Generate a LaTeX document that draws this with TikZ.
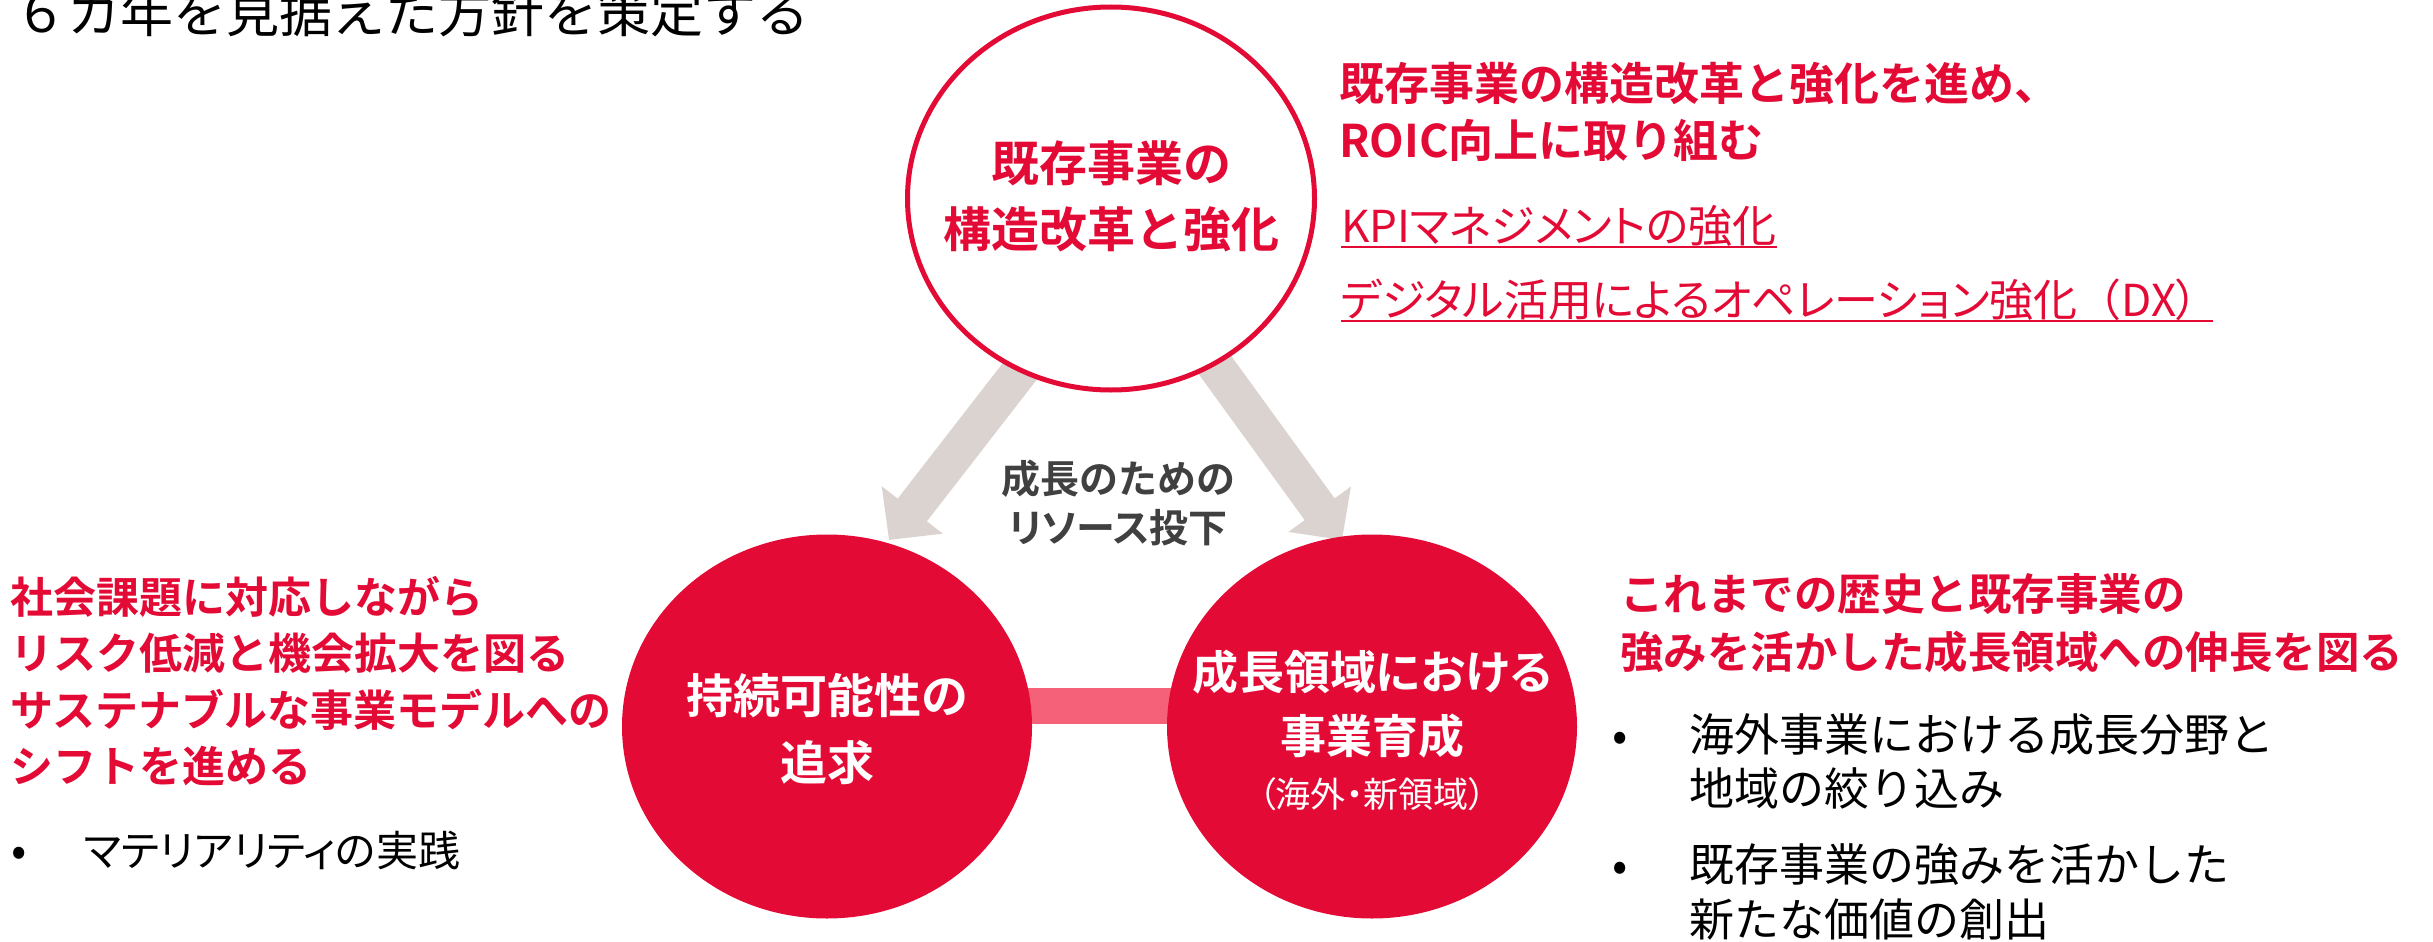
\documentclass[tikz,border=0pt]{standalone}
\usepackage{fontspec}
\newfontfamily\jp[BoldFont={Noto Sans CJK JP Bold}]{Noto Sans CJK JP}
\newfontfamily\jpp[BoldFont={Noto Sans CJK JP Bold},RawFeature=+palt]{Noto Sans CJK JP}
\usetikzlibrary{shapes.geometric,arrows.meta,backgrounds}
\definecolor{cred}{HTML}{E30B36}
\definecolor{cpink}{HTML}{F6617A}
\definecolor{cgray}{HTML}{DBD3D0}
\definecolor{ctext}{HTML}{404040}
\newcommand\fsz[1]{\fontsize{#1}{#1}\selectfont}
\begin{document}
\begin{tikzpicture}[x=1pt,y=-1pt,
  every node/.style={inner sep=0pt, outer sep=0pt},
  topcirc/.style={ellipse, draw=cred, line width=5pt, fill=white, minimum width=407pt, minimum height=383pt},
  redcirc/.style={ellipse, fill=cred, minimum width=410pt, minimum height=384pt},
  grayarrow/.style={draw=cgray, line width=37pt, -{Triangle[width=75pt,length=38pt]}},
  pinkbar/.style={draw=cpink, line width=36pt},
  uline/.style={draw=cred, line width=2.5pt},
  head/.style={anchor=base west, text=cred, font=\jp\bfseries\fsz{43}},
  body/.style={anchor=base west, text=black, font=\jp\fsz{45}},
  ctr/.style={anchor=base}
]
\useasboundingbox (0,0) rectangle (2433,942);

% title (cut at the top edge, as in the reference)
\node[anchor=base west, font=\jp\fsz{53}] (title) at (14,33) {６カ年を見据えた方針を策定する};

% circles
\node[topcirc] (top) at (1111,198.5) {};
\node[redcirc] (left) at (827,726.5) {};
\node[redcirc] (right) at (1372,726.5) {};

\begin{scope}[on background layer]
  \coordinate (aLs) at (1072,304);
  \coordinate (aLe) at (889,540);
  \coordinate (aRs) at (1167,299);
  \coordinate (aRe) at (1342,540);
  \draw[grayarrow] (aLs) -- (aLe);
  \draw[grayarrow] (aRs) -- (aRe);
  \draw[pinkbar] ([yshift=21pt]left.center) -- ([yshift=21pt]right.center);
\end{scope}

% top circle text
\node[ctr, text=cred, font=\jp\bfseries\fsz{48}] (topT1) at (1111,181) {既存事業の};
\node[ctr, text=cred, font=\jp\bfseries\fsz{48}] (topT2) at (1111,247) {構造改革と強化};

% middle label
\node[ctr, text=ctext, font=\jp\bfseries\fsz{39}] (mid1) at (1118,493) {成長のための};
\node[ctr, text=ctext, font=\jpp\bfseries\fsz{39}] (mid2) at (1118,542) {リソース投下};

% left circle text
\node[ctr, text=white, font=\jp\bfseries\fsz{47}] (lc1) at (827,713) {持続可能性の};
\node[ctr, text=white, font=\jp\bfseries\fsz{47}] (lc2) at (827,780) {追求};

% right circle text
\node[ctr, text=white, font=\jpp\bfseries\fsz{46}] (rc1) at (1372,689) {成長領域における};
\node[ctr, text=white, font=\jp\bfseries\fsz{46}] (rc2) at (1372,753) {事業育成};
\node[ctr, text=white, font=\jpp\fsz{35}] (rc3) at (1372,807) {（海外・新領域）};

% top right block
\node[head, font=\jp\bfseries\fsz{45}] (trH1) at (1339,100) {既存事業の構造改革と強化を進め、};
\node[head, font=\jp\bfseries\fsz{45}] (trH2) at (1339,157) {ROIC向上に取り組む};
\node[body, text=cred, font=\jpp\fsz{44}] (kpi) at (1341,242) {KPIマネジメントの強化};
\node[body, text=cred, font=\jpp\fsz{44}] (dx) at (1341,316) {デジタル活用によるオペレーション強化{\jp （}DX）};
\draw[uline] ([yshift=-5pt]kpi.base west) -- ([yshift=-5pt]kpi.base east);
\draw[uline] ([yshift=-5pt]dx.base west) -- ([xshift=14pt,yshift=-5pt]dx.base east);

% left block
\node[head] (lH1) at (10,613) {社会課題に対応しながら};
\node[head] (lH2) at (10,669) {リスク低減と機会拡大を図る};
\node[head] (lH3) at (10,726) {サステナブルな事業モデルへの};
\node[head] (lH4) at (10,782) {シフトを進める};
\node[body] (lB) at (12,866) {•};
\node[body, font=\jpp\fsz{42}] (lBt) at (84,866) {マテリアリティの実践};

% right block
\node[head, font=\jp\bfseries\fsz{43.5}] (rH1) at (1620,610) {これまでの歴史と既存事業の};
\node[head, font=\jp\bfseries\fsz{43.5}] (rH2) at (1620,668) {強みを活かした成長領域への伸長を図る};
\node[body] (rB1) at (1612,751) {•};
\node[body] (rB1a) at (1689,751) {海外事業における成長分野と};
\node[body] (rB1b) at (1689,805) {地域の絞り込み};
\node[body] (rB2) at (1612,881) {•};
\node[body] (rB2a) at (1689,881) {既存事業の強みを活かした};
\node[body] (rB2b) at (1689,936) {新たな価値の創出};
\end{tikzpicture}
\end{document}
